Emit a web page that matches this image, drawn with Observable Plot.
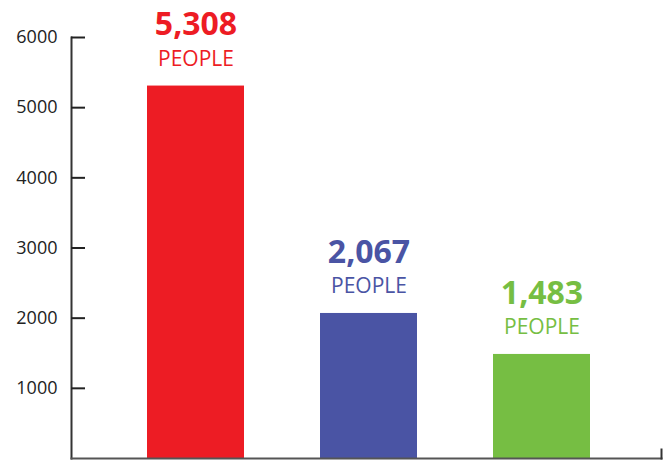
<!DOCTYPE html>
<html><head><meta charset="utf-8">
<script src="https://cdn.jsdelivr.net/npm/d3@7"></script>
<script src="https://cdn.jsdelivr.net/npm/@observablehq/plot@0.6"></script>
<style>body{margin:0;background:#fff;}</style>
</head><body><div id="chart"></div>
<script>
const categories = ["A", "B", "C"];
const values = [5308, 2067, 1483];
const colors = ["#ED1C24", "#4A54A4", "#76BE43"];
const unitLabel = "PEOPLE";
const yTicks = [1000, 2000, 3000, 4000, 5000, 6000];

const data = categories.map((c, i) => ({category: c, value: values[i], color: colors[i]}));
const fmt = d3.format(",");

const chart = Plot.plot({
  width: 668, height: 460,
  marginLeft: 71, marginRight: 7, marginTop: 37, marginBottom: 2,
  style: {fontFamily: "'Open Sans', sans-serif", background: "#fff", overflow: "visible"},
  x: {domain: categories, range: [71, 665], paddingInner: 0.44, paddingOuter: 0.43, axis: null},
  y: {domain: [0, 6000], axis: null},
  marks: [
    Plot.barY(data, {x: "category", y: "value", fill: "color"}),
    Plot.frame({anchor: "left", stroke: "#333", strokeWidth: 2}),
    Plot.frame({anchor: "bottom", stroke: "#555", strokeWidth: 2}),
    Plot.frame({anchor: "right", insetTop: 412, stroke: "#333", strokeWidth: 2}),
    Plot.axisY({ticks: yTicks, tickFormat: d3.format("d"), tickSize: 14, dx: 14, tickPadding: 14, fontSize: 18, color: "#222", strokeWidth: 2, label: null}),
    Plot.text(data, {x: "category", y: "value", text: d => fmt(d.value), fill: "color", fontSize: 32, fontWeight: "bold", dy: -61}),
    Plot.text(data, {x: "category", y: "value", text: () => unitLabel, fill: "color", fontSize: 21, dy: -27})
  ]
});
document.getElementById("chart").append(chart);
</script>
</body></html>
